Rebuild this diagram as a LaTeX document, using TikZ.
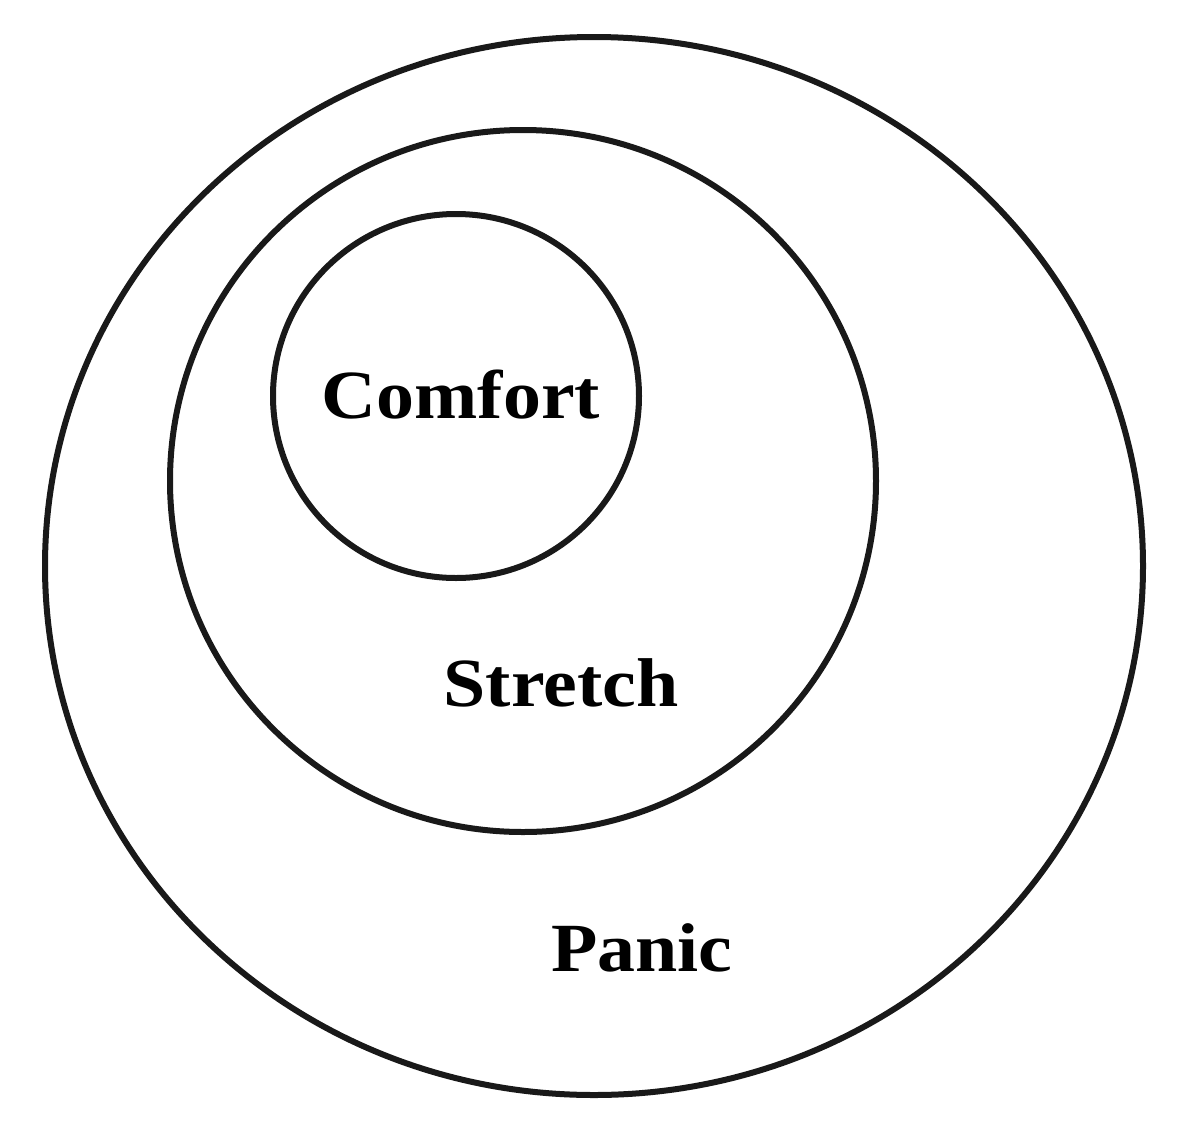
\documentclass[tikz,border=0pt]{standalone}
\usepackage{fontspec}
\setmainfont{Liberation Serif}
\begin{document}
\begin{tikzpicture}[x=1pt,y=-1pt,
  zone/.style={draw=black!90,line width=6pt},
  lab/.style={font=\fontsize{69}{69}\selectfont\bfseries,inner sep=0pt,xscale=1.1}]
\useasboundingbox[fill=white] (0,0) rectangle (1200,1125);
\draw[zone] (594,566) ellipse [x radius=549, y radius=529];
\draw[zone] (523,481) ellipse [x radius=353, y radius=351];
\draw[zone] (456,396) ellipse [x radius=183, y radius=182];
\node[lab] (comfort) at (461,395) {Comfort};
\node[lab] (stretch) at (561,683) {Stretch};
\node[lab] (panic) at (642,948) {Panic};
\end{tikzpicture}
\end{document}
